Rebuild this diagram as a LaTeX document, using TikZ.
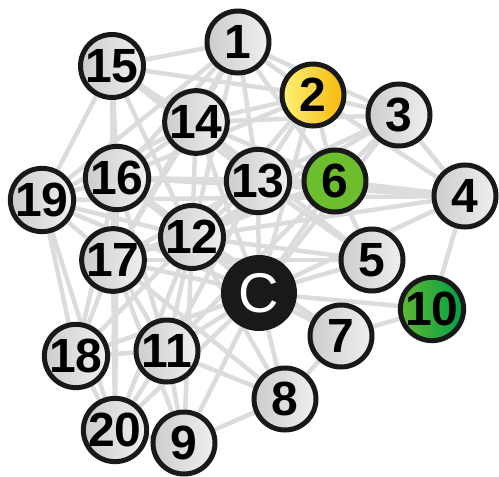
\documentclass[tikz,border=0pt]{standalone}
\usepackage{fontspec}
\setmainfont{Liberation Sans}
\usetikzlibrary{backgrounds}

\definecolor{edgegray}{RGB}{220,220,220}
\definecolor{yellowlt}{RGB}{255,242,120}
\definecolor{yellowdk}{RGB}{246,184,10}
\definecolor{greenmid}{RGB}{108,190,45}
\definecolor{greenlt}{RGB}{96,184,48}
\definecolor{greendk}{RGB}{0,160,72}

\begin{document}
\begin{tikzpicture}[
    x=1pt, y=-1pt,
    vertex/.style={
        circle,
        draw=black!90,
        line width=5pt,
        minimum size=62pt,
        inner sep=0pt,
        font=\fontsize{48}{48}\selectfont\bfseries,
        left color=black!20,
        middle color=white,
        right color=black!6
    },
    hilite/.style={vertex, left color=yellowlt, middle color=yellowlt!60!yellowdk, right color=yellowdk},
    active/.style={vertex, left color=greenmid, middle color=greenmid, right color=greenmid},
    deep/.style={vertex, left color=greenlt, middle color=greenlt!50!greendk, right color=greendk},
    center/.style={circle, fill=black!90, minimum size=76pt, inner sep=0pt,
        text=white, font=\fontsize{56}{56}\selectfont},
    edge/.style={draw=edgegray, line width=4.5pt}
]
\useasboundingbox (0,0) rectangle (499,477);

% ============================================================
% WĘZŁY
% ============================================================
\node[vertex] (n1)  at (238, 42)  {1};
\node[hilite] (n2)  at (313, 95)  {2};
\node[vertex] (n3)  at (399,115)  {3};
\node[vertex] (n4)  at (465,196)  {4};
\node[vertex] (n5)  at (372,260)  {5};
\node[active] (n6)  at (335,181)  {6};
\node[vertex] (n7)  at (341,336)  {7};
\node[vertex] (n8)  at (285,399)  {8};
\node[vertex] (n9)  at (184,443)  {9};
\node[deep]   (n10) at (432,309)  {10};
\node[vertex] (n11) at (167,351)  {11};
\node[vertex] (n12) at (192,237)  {12};
\node[vertex] (n13) at (258,181)  {13};
\node[vertex] (n14) at (196,122)  {14};
\node[vertex] (n15) at (112, 66)  {15};
\node[vertex] (n16) at (117,178)  {16};
\node[vertex] (n17) at (113,260)  {17};
\node[vertex] (n18) at (76, 356)  {18};
\node[vertex] (n19) at (42, 200)  {19};
\node[vertex] (n20) at (115,430)  {20};
\node[center] (nC)  at (259,293)  {C};

% ============================================================
% KRAWĘDZIE (pod węzłami)
% ============================================================
\begin{pgfonlayer}{background}
\foreach \a/\b in {1/15, 1/2, 1/14, 1/13, 1/16, 1/6, 1/12, 1/3, 1/19, 1/17,
                   2/15, 2/3, 2/14, 2/13, 2/6, 2/16, 2/12, 2/C, 2/4,
                   3/4, 3/6, 3/13, 3/14, 3/C, 3/12,
                   4/6, 4/13, 4/16, 4/19, 4/C, 4/10, 4/12,
                   5/C, 5/13, 5/12, 5/17, 5/14, 5/6,
                   6/13, 6/C, 6/12, 6/16, 6/14, 6/17, 6/11,
                   7/C, 7/10, 7/8, 7/12, 7/16,
                   8/C, 8/12, 8/11, 8/17, 8/9,
                   9/11, 9/C, 9/20, 9/12, 9/17,
                   10/C,
                   11/C, 11/12, 11/17, 11/20, 11/18, 11/16, 11/13,
                   12/C, 12/13, 12/14, 12/16, 12/17, 12/18, 12/19, 12/20,
                   13/C, 13/14, 13/16, 13/17, 13/15,
                   14/15, 14/16, 14/17, 14/19, 14/C,
                   15/16, 15/19, 15/17, 15/12,
                   16/19, 16/17, 16/C, 16/18, 16/20,
                   17/18, 17/19, 17/20, 17/C,
                   18/19, 18/20, 18/C,
                   19/C, 19/20, 20/C}
    \draw[edge] (n\a) -- (n\b);
\end{pgfonlayer}

\end{tikzpicture}
\end{document}
